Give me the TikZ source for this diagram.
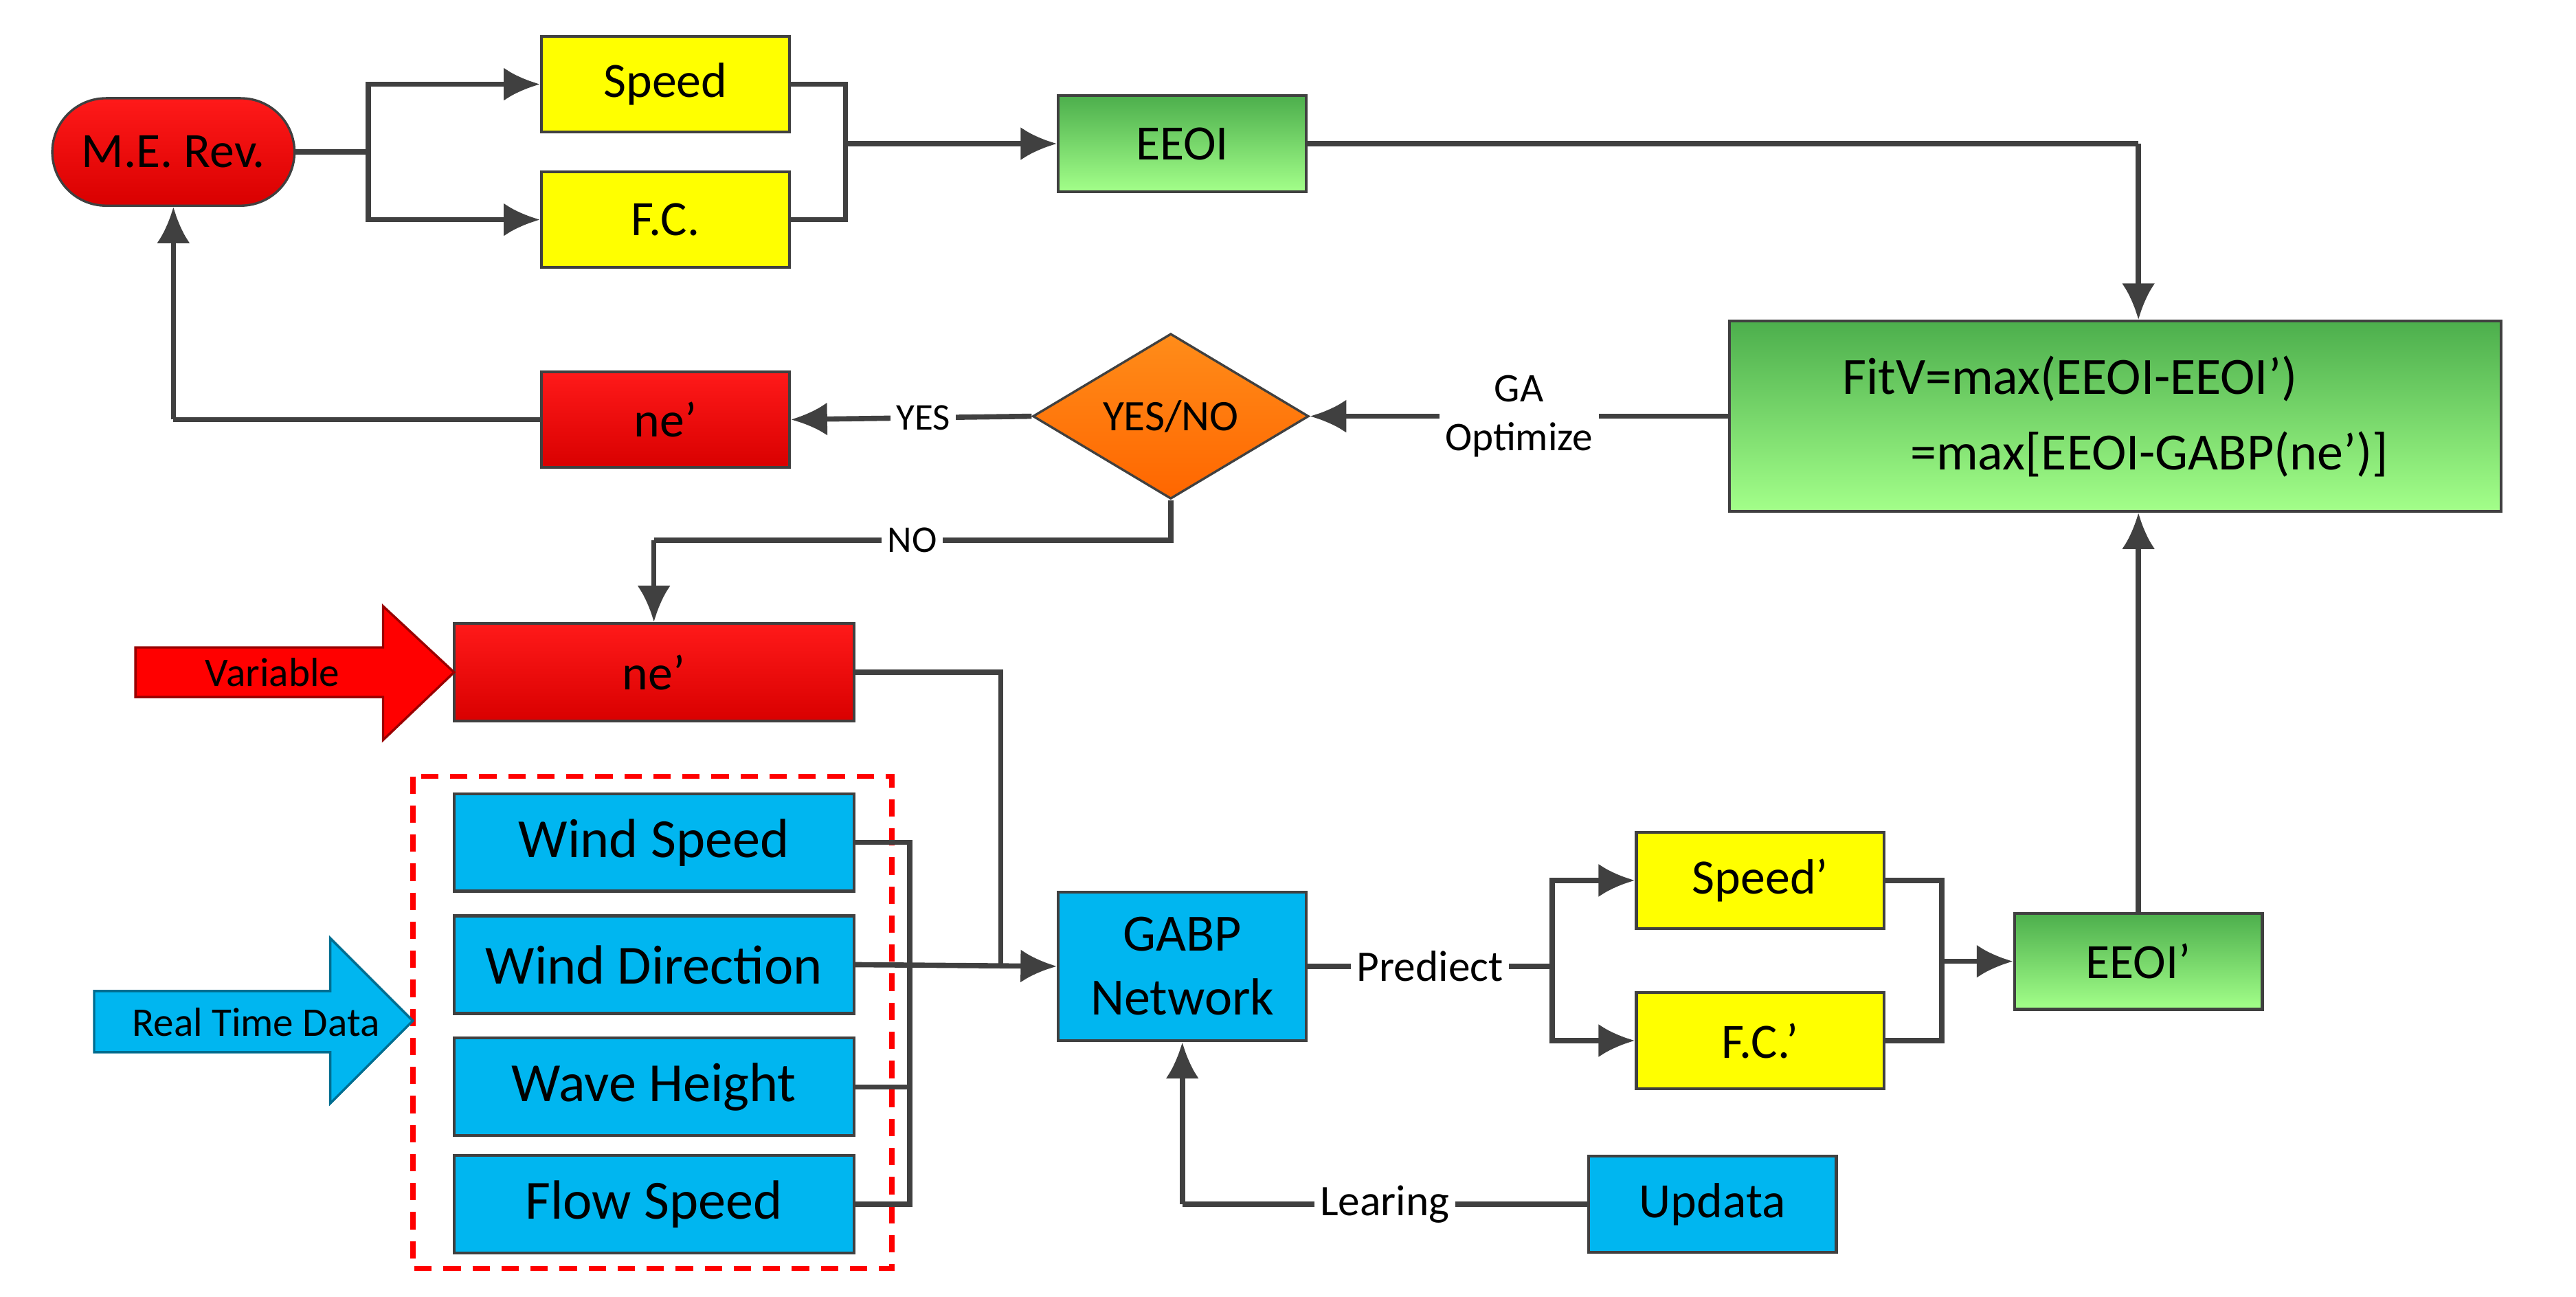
\documentclass[tikz,border=0pt]{standalone}
\usepackage{fontspec}
\setmainfont{Carlito}
\usetikzlibrary{arrows.meta,shapes.geometric,shapes.misc}
\definecolor{ln}{HTML}{404040}
\definecolor{bl}{HTML}{00B6F0}
\definecolor{ye}{HTML}{FFFF00}
\begin{document}
\begin{tikzpicture}[x=0.01cm,y=-0.01cm,
  box/.style={draw=ln, line width=0.5pt, minimum width=1.5cm, minimum height=0.58cm, inner sep=1pt, font=\fontsize{8.5}{10}\selectfont},
  yelbox/.style={box, fill=ye},
  redbox/.style={box, top color=red!90!white, bottom color=red!85!black},
  grnbox/.style={box, top color=green!55!black!70!white, bottom color=green!40!white!90!yellow},
  blubox/.style={box, fill=bl},
  inbox/.style={blubox, minimum width=2.42cm, minimum height=0.59cm, font=\fontsize{9.5}{11}\selectfont},
  arr/.style={draw=ln, line width=0.9pt, -{Latex[length=2.2mm,width=2mm]}},
  ln/.style={draw=ln, line width=0.9pt},
  lab/.style={fill=white, inner sep=1pt, font=\fontsize{6.5}{7.5}\selectfont},
]
\useasboundingbox (0,0) rectangle (1560,785);
% top row
\node (me) [draw=ln, rounded rectangle, minimum width=1.7cm, minimum height=0.65cm, top color=red!90!white, bottom color=red!85!black, font=\fontsize{8.5}{10}\selectfont] at (105,92) {M.E. Rev.};
\node (sp) [yelbox] at (403,51) {Speed};
\node (fc) [yelbox] at (403,133) {F.C.};
\node (ee) [grnbox] at (716,87) {EEOI};
\node (fit) [grnbox, minimum width=4.67cm, minimum height=1.15cm, align=left, font=\fontsize{9}{13}\selectfont] at (1281,252) {FitV=max(EEOI-EEOI’)\\\hspace*{1.3em}=max[EEOI-GABP(ne’)]};
\node (yn) [diamond, aspect=1.67, draw=ln, top color=orange!90!white, bottom color=orange!80!red, minimum width=1.67cm, minimum height=1cm, inner sep=0pt, font=\fontsize{7.5}{9}\selectfont] at (709,252) {YES/NO};
\node (ne1) [redbox] at (403,254) {ne’};
\node (ne2) [redbox, minimum width=2.42cm, minimum height=0.59cm] at (396,407) {ne’};
% inputs
\node (ws) [inbox] at (396,510) {Wind Speed};
\node (wd) [inbox] at (396,584) {Wind Direction};
\node (wh) [inbox] at (396,658) {Wave Height};
\node (fs) [inbox] at (396,729) {Flow Speed};
\draw[draw=red, densely dashed, line width=0.9pt] (250,470) rectangle (540,768);
\node (ga) [blubox, minimum height=0.9cm, align=center, font=\fontsize{9}{11}\selectfont] at (716,585) {GABP\\Network};
\node (sp2) [yelbox] at (1066,533) {Speed’};
\node (fc2) [yelbox] at (1066,630) {F.C.’};
\node (ee2) [grnbox] at (1295,582) {EEOI’};
\node (up) [blubox] at (1037,729) {Updata};
% big arrows
\draw[draw=red!60!black, fill=red] (82,392) -- (232,392) -- (232,367) -- (275,407) -- (232,448) -- (232,422) -- (82,422) -- cycle;
\node (var) [font=\fontsize{7}{8}\selectfont] at (165,407) {Variable};
\draw[draw=bl!60!black, fill=bl] (57,600) -- (200,600) -- (200,568) -- (250,618) -- (200,668) -- (200,637) -- (57,637) -- cycle;
\node (rtd) [font=\fontsize{7}{8}\selectfont] at (155,619) {Real Time Data};
% coordinates
\coordinate (s1) at (223,92);
\coordinate (m1) at (512,87);
\coordinate (c1) at (1295,87);
\coordinate (c2) at (105,254);
\coordinate (n1) at (709,327);
\coordinate (n2) at (396,327);
\coordinate (v1) at (606,407);
\coordinate (v2) at (606,585);
\coordinate (b1) at (551,510);
\coordinate (b2) at (551,729);
\coordinate (p1) at (940,585);
\coordinate (m2) at (1176,582);
\coordinate (l1) at (716,729);
% connectors
\path[ln] (me.east) -- (s1);
\path[arr] (s1) |- (sp.west);
\path[arr] (s1) |- (fc.west);
\path[ln] (sp.east) -| (m1) |- (fc.east);
\path[arr] (m1) -- (ee.west);
\path[ln] (ee.east) -- (c1);
\path[arr] (c1) -- (fit.north -| c1);
\path[arr] (fit.west) -- node[lab, align=center, font=\fontsize{7}{8.5}\selectfont, pos=0.5] {GA\\Optimize} (yn.east);
\path[arr] (yn.west) -- node[lab, pos=0.45] {YES} (ne1.east);
\path[ln] (ne1.west) -- (c2);
\path[arr] (c2) -- (me.south);
\path[ln] (yn.south) -- (n1) -- node[lab] {NO} (n2);
\path[arr] (n2) -- (ne2.north);
\path[ln] (ne2.east) -- (v1) -- (v2);
\path[ln] (ws.east) -- (b1) -- (b2) -- (fs.east);
\path[ln] (wh.east) -- (wh.east -| b1);
\path[arr] (wd.east) -- (ga.west);
\path[ln] (ga.east) -- node[lab, font=\fontsize{7.5}{9}\selectfont] {Prediect} (p1);
\path[arr] (p1) |- (sp2.west);
\path[arr] (p1) |- (fc2.west);
\path[ln] (sp2.east) -| (m2) |- (fc2.east);
\path[arr] (m2) -- (ee2.west);
\path[arr] (ee2.north) -- (fit.south -| ee2.north);
\path[ln] (up.west) -- node[lab, font=\fontsize{7.5}{9}\selectfont] {Learing} (l1);
\path[arr] (l1) -- (ga.south);
\end{tikzpicture}
\end{document}
